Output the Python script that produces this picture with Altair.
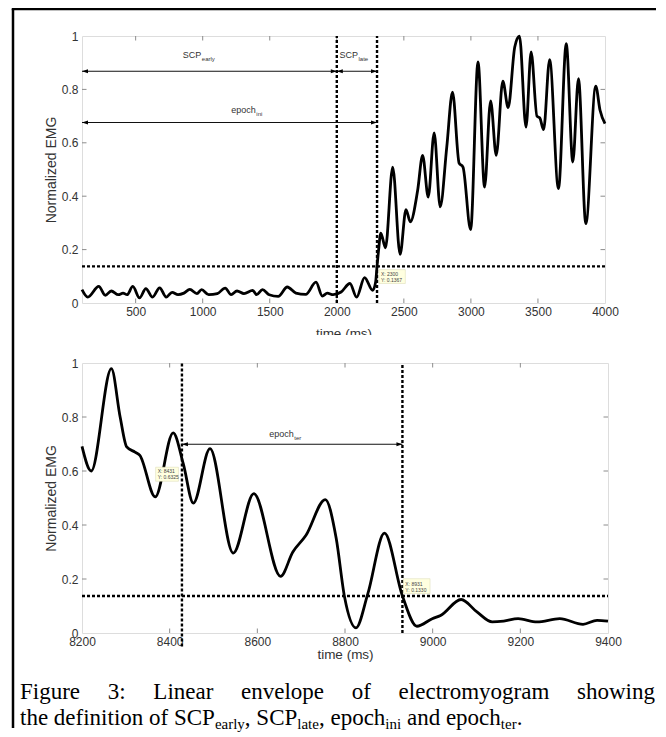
import altair as alt
import pandas as pd

# ---------------- data ----------------
top_time = [100, 143, 225, 274, 318, 371, 406, 436, 479, 529, 576, 626, 679, 728, 772, 816, 860, 904,
            957, 992, 1045, 1109, 1168, 1212, 1256, 1308, 1373, 1402, 1446, 1496, 1563, 1631, 1695,
            1768, 1845, 1892, 1929, 1973, 2032, 2098, 2148, 2207, 2268, 2290, 2300, 2312, 2328, 2363,
            2417, 2472, 2516, 2548, 2603, 2640, 2682, 2726, 2771, 2820, 2863, 2912, 2941, 2998, 3053,
            3102, 3147, 3189, 3238, 3278, 3327, 3362, 3411, 3449, 3493, 3513, 3542, 3587, 3653, 3711,
            3760, 3802, 3857, 3931, 3963, 4000]
top_emg = [0.050, 0.022, 0.062, 0.029, 0.045, 0.031, 0.037, 0.031, 0.062, 0.019, 0.054, 0.022, 0.057,
           0.022, 0.040, 0.031, 0.037, 0.051, 0.035, 0.050, 0.031, 0.035, 0.056, 0.031, 0.045, 0.035,
           0.047, 0.031, 0.050, 0.031, 0.025, 0.060, 0.037, 0.032, 0.078, 0.026, 0.037, 0.031, 0.041,
           0.073, 0.022, 0.095, 0.047, 0.080, 0.137, 0.200, 0.262, 0.207, 0.509, 0.182, 0.350, 0.304,
           0.422, 0.553, 0.397, 0.637, 0.360, 0.584, 0.790, 0.524, 0.509, 0.275, 0.903, 0.434, 0.757,
           0.553, 0.831, 0.732, 0.959, 0.999, 0.659, 0.940, 0.699, 0.694, 0.649, 0.911, 0.428, 0.971,
           0.528, 0.840, 0.297, 0.812, 0.722, 0.672]

bot_time = [8200, 8221, 8267, 8287, 8302, 8321, 8332, 8367, 8408, 8431, 8454, 8492, 8545, 8592, 8653,
            8681, 8711, 8755, 8780, 8799, 8825, 8852, 8890, 8931, 8964, 8999, 9018, 9065, 9101, 9136,
            9162, 9195, 9238, 9290, 9343, 9375, 9400]
bot_emg = [0.691, 0.600, 0.979, 0.800, 0.689, 0.670, 0.658, 0.504, 0.741, 0.627, 0.481, 0.683, 0.296,
           0.516, 0.210, 0.300, 0.362, 0.494, 0.350, 0.133, 0.019, 0.145, 0.370, 0.137, 0.025, 0.053,
           0.065, 0.124, 0.078, 0.041, 0.044, 0.053, 0.041, 0.053, 0.032, 0.047, 0.044]

TOP_DOMAIN = [100, 4000]
BOT_DOMAIN = [8200, 9400]
TOP_XLABELS = [500, 1000, 1500, 2000, 2500, 3000, 3500, 4000]
BOT_XLABELS = [8200, 8400, 8600, 8800, 9000, 9200, 9400]
Y_LABELS = [0, 0.2, 0.4, 0.6, 0.8, 1]
THRESHOLD = 0.137
top_markers = [2000, 2300]
bot_markers = [8428, 8931]

# arrows: start, end, level
top_arrows = {"t1": [100, 2000, 100], "t2": [2000, 2300, 2300], "v": [0.868, 0.868, 0.676]}
bot_arrows = {"t1": [8428], "t2": [8931], "v": [0.699]}
top_labels = {"main": ["SCP", "SCP", "epoch"], "sub": ["early", "late", "ini"],
              "t": [990, 2158, 1396], "v": [0.928, 0.928, 0.724]}
bot_labels = {"main": ["epoch"], "sub": ["ter"], "t": [8683], "v": [0.736]}

top_tips = {"t1": [2314], "t2": [2511], "v1": [0.073], "v2": [0.125],
            "l1": ["X: 2300"], "l2": ["Y: 0.1367"]}
bot_tips = {"t1": [8368, 8933], "t2": [8420, 8994], "v1": [0.562, 0.146], "v2": [0.614, 0.201],
            "l1": ["X: 8431", "X: 8931"], "l2": ["Y: 0.6325", "Y: 0.1330"]}

caption_line1 = ["Figure", "3:", "Linear", "envelope", "of", "electromyogram", "showing"]
caption_line2 = [("the definition of SCP", False), ("early", True), (", SCP", False), ("late", True),
                 (", epoch", False), ("ini", True), (" and epoch", False), ("ter", True), (".", False)]

# ---------------- styling ----------------
FONT = "Liberation Sans"
TXT = "#333333"
BOX = "#8c8c8c"
TOP_W, TOP_H = 523, 267
BOT_W, BOT_H = 526, 270
DASH = [3, 2]
LEFT_HEAD = "M0,0L2,-0.7L2,0.7Z"
RIGHT_HEAD = "M0,0L-2,-0.7L-2,0.7Z"
dummy = pd.DataFrame({"a": [0]})


def x_enc(field, dom, vals, title_y):
    return alt.X(f"{field}:Q", scale=alt.Scale(domain=dom, nice=False, zero=False),
                 axis=alt.Axis(values=vals, format="d", title="time (ms)", ticks=False, domain=False,
                               grid=False, labelFont=FONT, labelFontSize=12, labelColor=TXT,
                               labelPadding=3, labelFlush=False, titleFont=FONT, titleFontSize=13.5,
                               titleFontWeight="normal", titleColor=TXT, titleY=title_y,
                               titleBaseline="middle"))


def y_enc(field, h):
    return alt.Y(f"{field}:Q", scale=alt.Scale(domain=[0, 1], nice=False, zero=False),
                 axis=alt.Axis(values=Y_LABELS, format="~g", title="Normalized EMG", ticks=False,
                               domain=False, grid=False, labelFont=FONT, labelFontSize=12,
                               labelColor=TXT, labelPadding=4, titleFont=FONT, titleFontSize=14,
                               titleFontWeight="normal", titleColor=TXT, titleX=-31, titleY=h / 2,
                               titleAngle=270, titleBaseline="middle", titleAlign="center"))


def panel(times, values, dom, xlabels, markers, marker_low, arrows, labels, tips, w, h, title_y):
    X = lambda f: x_enc(f, dom, xlabels, title_y)
    Y = lambda f: y_enc(f, h)
    curve = pd.DataFrame({"t": times, "v": values})
    # inward ticks
    tx = (dom[1] - dom[0]) * 4.5 / w
    ty = 4.5 / h
    rows = []
    for t in xlabels:
        if dom[0] < t < dom[1]:
            rows.append((t, t, 0, ty))
            rows.append((t, t, 1, 1 - ty))
    for v in Y_LABELS[1:-1]:
        rows.append((dom[0], dom[0] + tx, v, v))
        rows.append((dom[1], dom[1] - tx, v, v))
    ticks = pd.DataFrame(rows, columns=["t", "t2", "v", "v2"])
    tick_layer = alt.Chart(ticks).mark_rule(color=BOX, strokeWidth=1).encode(
        x=X("t"), x2="t2:Q", y=Y("v"), y2="v2:Q")

    thr = pd.DataFrame({"t": [dom[0]], "t2": [dom[1]], "v": [THRESHOLD]})
    thr_layer = alt.Chart(thr).mark_rule(color="black", strokeWidth=2.4, strokeDash=DASH).encode(
        x=X("t"), x2="t2:Q", y=Y("v"))
    vl = pd.DataFrame({"t": markers, "v": marker_low, "v2": [1] * len(markers)})
    vl_layer = alt.Chart(vl).mark_rule(color="black", strokeWidth=2.4, strokeDash=DASH).encode(
        x=X("t"), y=Y("v"), y2="v2:Q")

    ar = pd.DataFrame(arrows)
    ar_layer = alt.Chart(ar).mark_rule(color="#111111", strokeWidth=1.2).encode(
        x=X("t1"), x2="t2:Q", y=Y("v"))
    hl = alt.Chart(ar).mark_point(shape=LEFT_HEAD, filled=True, size=36, color="black",
                                  opacity=1, strokeWidth=0).encode(x=X("t1"), y=Y("v"))
    hr = alt.Chart(ar).mark_point(shape=RIGHT_HEAD, filled=True, size=36, color="black",
                                  opacity=1, strokeWidth=0).encode(x=X("t2"), y=Y("v"))

    lb = pd.DataFrame(labels)
    lm = alt.Chart(lb).mark_text(font=FONT, fontSize=9, color=TXT, align="right",
                                 baseline="middle").encode(x=X("t"), y=Y("v"), text="main:N")
    ls = alt.Chart(lb).mark_text(font=FONT, fontSize=6, color=TXT, align="left", baseline="middle",
                                 dx=0.5, dy=4).encode(x=X("t"), y=Y("v"), text="sub:N")

    tp = pd.DataFrame(tips)
    tip_rect = alt.Chart(tp).mark_rect(fill="#ffffe0", stroke="#d8d8b0", strokeWidth=0.5).encode(
        x=X("t1"), x2="t2:Q", y=Y("v1"), y2="v2:Q")
    tip_t1 = alt.Chart(tp).mark_text(font=FONT, fontSize=5, color="#444444", align="left",
                                     baseline="middle", dx=2, dy=-10).encode(
        x=X("t1"), y=Y("v1"), text="l1:N")
    tip_t2 = alt.Chart(tp).mark_text(font=FONT, fontSize=5, color="#444444", align="left",
                                     baseline="middle", dx=2, dy=-4).encode(
        x=X("t1"), y=Y("v1"), text="l2:N")

    line = alt.Chart(curve).mark_line(color="black", strokeWidth=2.8, interpolate="monotone").encode(
        x=X("t"), y=Y("v"))

    return [tick_layer, thr_layer, vl_layer, ar_layer, hl, hr, lm, ls, line, tip_rect, tip_t1, tip_t2]


OX_TOP, OY_TOP = 82, 36   # page position of upper plot origin
OX, OY = 82, 363          # page position of lower plot origin

top_layers = panel(top_time, top_emg, TOP_DOMAIN, TOP_XLABELS, top_markers, [0, 0], top_arrows,
                   top_labels, top_tips, TOP_W, TOP_H, 30)
# page frame (left and top border lines), kept inside the window
frame_v = alt.Chart(dummy).mark_rule(color="black", strokeWidth=2.5).encode(
    x=alt.value(13 - OX_TOP), y=alt.value(9 - OY_TOP), y2=alt.value(728 - OY_TOP))
frame_h = alt.Chart(dummy).mark_rule(color="black", strokeWidth=2.5).encode(
    x=alt.value(13 - OX_TOP - 1.25), x2=alt.value(656 - OX_TOP), y=alt.value(9 - OY_TOP))
top = alt.layer(*top_layers, frame_v, frame_h).properties(width=TOP_W, height=TOP_H)

bot_layers = panel(bot_time, bot_emg, BOT_DOMAIN, BOT_XLABELS, bot_markers, [-0.05, 0], bot_arrows,
                   bot_labels, bot_tips, BOT_W, BOT_H, 21)

# white strip of the lower figure cutting the upper x-axis title
cover = alt.Chart(dummy).mark_rect(color="white").encode(
    x=alt.value(-40), x2=alt.value(530), y=alt.value(335 - OY), y2=alt.value(354 - OY))

# ---------------- caption (Times metrics) ----------------
WID = {" ": 250, ",": 250, ".": 250, ":": 278, "3": 500, "a": 444, "c": 444, "d": 500, "e": 444,
       "f": 333, "g": 500, "h": 500, "i": 278, "l": 278, "m": 778, "n": 500, "o": 500, "p": 500,
       "r": 333, "s": 389, "t": 278, "u": 500, "v": 500, "w": 722, "y": 500, "C": 667, "F": 556,
       "L": 611, "P": 556, "S": 556}


def tw(s, f):
    return sum(WID.get(c, 500) for c in s) / 1000.0 * f


CAP_F = 23
SUB_F = 15
L1_LEFT, L1_RIGHT, L1_BASE = 20 - OX, 655 - OX, 699 - OY
L2_BASE = 725 - OY

cap_layers = []
widths = [tw(wd, CAP_F) for wd in caption_line1]
gap = (L1_RIGHT - L1_LEFT - sum(widths)) / (len(caption_line1) - 1)
xp = L1_LEFT
for wd, wi in zip(caption_line1, widths):
    cap_layers.append(alt.Chart(dummy).mark_text(
        font="Liberation Serif", fontSize=CAP_F, color="black", align="left",
        baseline="alphabetic").encode(x=alt.value(xp), y=alt.value(L1_BASE), text=alt.value(wd)))
    xp += wi + gap

xp = L1_LEFT
for piece, is_sub in caption_line2:
    f = SUB_F if is_sub else CAP_F
    stripped = piece.lstrip(" ")
    lead = tw(piece[: len(piece) - len(stripped)], f)
    cap_layers.append(alt.Chart(dummy).mark_text(
        font="Liberation Serif", fontSize=f, color="black", align="left",
        baseline="alphabetic").encode(x=alt.value(xp + lead), y=alt.value(L2_BASE + (4 if is_sub else 0)),
                                      text=alt.value(stripped)))
    xp += tw(piece, f)

bottom = alt.layer(*bot_layers, cover, *cap_layers).properties(width=BOT_W, height=BOT_H)

chart = alt.vconcat(top, bottom, spacing=OY - OY_TOP - TOP_H, bounds="flush").properties(
    padding={"left": 2, "top": -1, "right": 0, "bottom": 0}
).configure_view(stroke=BOX, strokeWidth=1).configure(background="white")

chart.save("out.html", embed_options={"renderer": "svg", "actions": False})
